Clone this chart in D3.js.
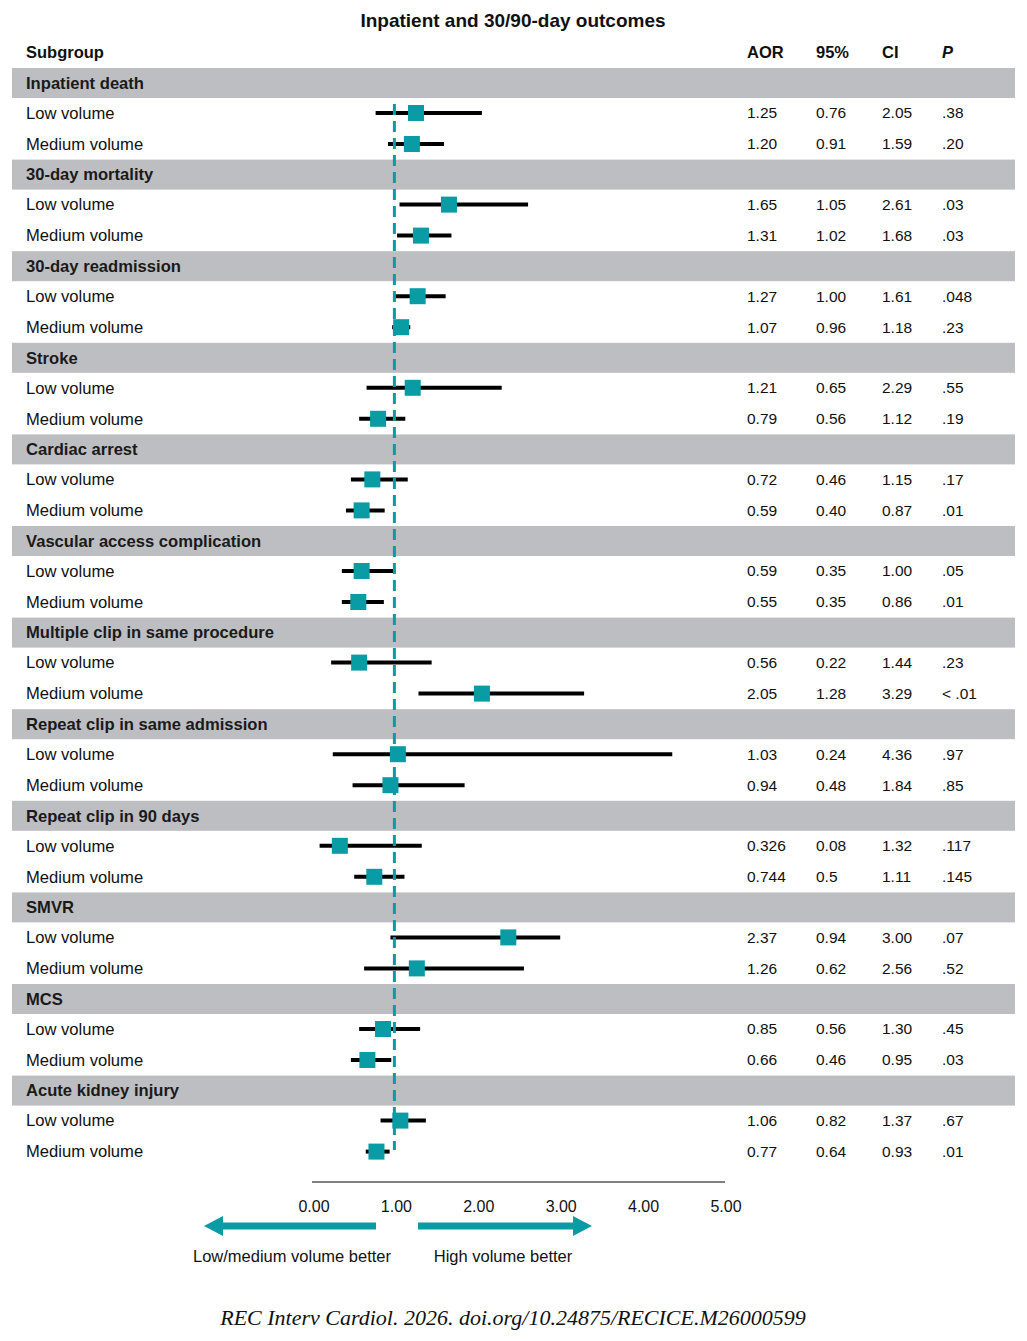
<!DOCTYPE html>
<html>
<head>
<meta charset="utf-8">
<script src="https://cdn.jsdelivr.net/npm/d3@7"></script>
<style>
  html, body { margin: 0; padding: 0; background: #fff; }
  svg { display: block; font-family: "Liberation Sans", Arial, sans-serif; }
</style>
</head>
<body>
<svg id="chart" width="1027" height="1341"></svg>
<script>
const title = "Inpatient and 30/90-day outcomes";
const columnHeaders = ["Subgroup", "AOR", "95%", "CI", "P"];
const groups = [
  "Inpatient death", "30-day mortality", "30-day readmission", "Stroke",
  "Cardiac arrest", "Vascular access complication", "Multiple clip in same procedure",
  "Repeat clip in same admission", "Repeat clip in 90 days", "SMVR", "MCS", "Acute kidney injury"
];
const rowLabels = ["Low volume", "Medium volume"];
const aor = ["1.25","1.20","1.65","1.31","1.27","1.07","1.21","0.79","0.72","0.59","0.59","0.55",
             "0.56","2.05","1.03","0.94","0.326","0.744","2.37","1.26","0.85","0.66","1.06","0.77"];
const lower = ["0.76","0.91","1.05","1.02","1.00","0.96","0.65","0.56","0.46","0.40","0.35","0.35",
               "0.22","1.28","0.24","0.48","0.08","0.5","0.94","0.62","0.56","0.46","0.82","0.64"];
const upper = ["2.05","1.59","2.61","1.68","1.61","1.18","2.29","1.12","1.15","0.87","1.00","0.86",
               "1.44","3.29","4.36","1.84","1.32","1.11","3.00","2.56","1.30","0.95","1.37","0.93"];
const pvals = [".38",".20",".03",".03",".048",".23",".55",".19",".17",".01",".05",".01",
               ".23","< .01",".97",".85",".117",".145",".07",".52",".45",".03",".67",".01"];
const xTicks = [0, 1, 2, 3, 4, 5];
const refValue = 1;
const arrowLabels = ["Low/medium volume better", "High volume better"];
const footer = "REC Interv Cardiol. 2026. doi.org/10.24875/RECICE.M26000599";

const TEAL = "#0a9ca5";
const GRAY = "#bdbec1";

const svg = d3.select("#chart");
const x = d3.scaleLinear().domain([0, 5]).range([313, 725]);
const gTop = d3.scaleLinear().domain([0, 1]).range([68, 68 + 91.6]);
const bandH = 30;

const rows = aor.map((v, i) => ({
  group: Math.floor(i / 2),
  label: rowLabels[i % 2],
  sub: i % 2,
  aor: v, lo: lower[i], hi: upper[i], p: pvals[i]
}));
const rowY = d => gTop(d.group) + 45 + d.sub * 31;

// Title
svg.append("text").attr("x", 513).attr("y", 27).attr("text-anchor", "middle")
  .attr("font-size", 19).attr("font-weight", "bold").attr("fill", "#111").text(title);

// Header
const headX = [26, 747, 816, 882, 942];
svg.selectAll("text.head").data(columnHeaders).enter().append("text")
  .attr("class", "head")
  .attr("x", (d, i) => headX[i]).attr("y", 58)
  .attr("font-size", 16.5).attr("font-weight", "bold")
  .attr("font-style", (d, i) => i === 4 ? "italic" : "normal")
  .attr("fill", "#111").text(d => d);

// Group bands
const gg = svg.selectAll("g.grp").data(groups).enter().append("g").attr("class", "grp");
gg.append("rect").attr("x", 12).attr("width", 1003)
  .attr("y", (d, i) => gTop(i)).attr("height", bandH).attr("fill", GRAY);
gg.append("text").attr("x", 26).attr("y", (d, i) => gTop(i) + bandH / 2)
  .attr("dy", "0.35em").attr("font-size", 16.6).attr("font-weight", "bold")
  .attr("fill", "#1a1a1a").text(d => d);

// Row labels and numbers
const rg = svg.selectAll("g.row").data(rows).enter().append("g").attr("class", "row");
rg.append("text").attr("x", 26).attr("y", rowY).attr("dy", "0.35em")
  .attr("font-size", 16.6).attr("fill", "#111").text(d => d.label);
const numCols = [["aor", 747], ["lo", 816], ["hi", 882], ["p", 942]];
numCols.forEach(([k, cx]) => {
  rg.append("text").attr("x", cx).attr("y", rowY).attr("dy", "0.35em")
    .attr("font-size", 15.5).attr("fill", "#111").text(d => d[k]);
});

// CI bars
rg.append("line")
  .attr("x1", d => x(+d.lo)).attr("x2", d => x(+d.hi))
  .attr("y1", rowY).attr("y2", rowY)
  .attr("stroke", "#000").attr("stroke-width", 4);

// Reference dashed line
svg.append("line").attr("x1", x(refValue) - 1).attr("x2", x(refValue) - 1)
  .attr("y1", 104).attr("y2", 1150)
  .attr("stroke", TEAL).attr("stroke-width", 3).attr("stroke-dasharray", "11,6");

// Point squares
const sq = 16;
rg.append("rect")
  .attr("x", d => x(+d.aor) - sq / 2).attr("y", d => rowY(d) - sq / 2)
  .attr("width", sq).attr("height", sq).attr("fill", TEAL);

// Axis
const axisY = 1182;
svg.append("line").attr("x1", x(0) - 1).attr("x2", x(5)).attr("y1", axisY).attr("y2", axisY)
  .attr("stroke", "#7b817e").attr("stroke-width", 2);
svg.selectAll("text.tick").data(xTicks).enter().append("text").attr("class", "tick")
  .attr("x", d => x(d) + 1).attr("y", 1206).attr("dy", "0.35em").attr("text-anchor", "middle")
  .attr("font-size", 16).attr("fill", "#111").text(d => d3.format(".2f")(d));

// Arrows
const ay = 1226;
function arrow(xStart, xTip) {
  const dir = Math.sign(xTip - xStart);
  const headLen = 19, headHalf = 10, shaftHalf = 3.5;
  const hb = xTip - dir * headLen;
  const pts = [
    [xStart, ay - shaftHalf], [hb, ay - shaftHalf], [hb, ay - headHalf],
    [xTip, ay], [hb, ay + headHalf], [hb, ay + shaftHalf], [xStart, ay + shaftHalf]
  ];
  svg.append("path").attr("d", d3.line()(pts) + "Z").attr("fill", TEAL);
}
arrow(376, 204);
arrow(418, 592);
svg.append("text").attr("x", 292).attr("y", 1256).attr("dy", "0.35em").attr("text-anchor", "middle")
  .attr("font-size", 16.5).attr("fill", "#111").text(arrowLabels[0]);
svg.append("text").attr("x", 503).attr("y", 1256).attr("dy", "0.35em").attr("text-anchor", "middle")
  .attr("font-size", 16.5).attr("fill", "#111").text(arrowLabels[1]);

// Footer
svg.append("text").attr("x", 513).attr("y", 1325).attr("text-anchor", "middle")
  .attr("font-family", "'Liberation Serif', 'DejaVu Serif', serif")
  .attr("font-style", "italic").attr("font-size", 22).attr("fill", "#111").text(footer);
</script>
</body>
</html>
